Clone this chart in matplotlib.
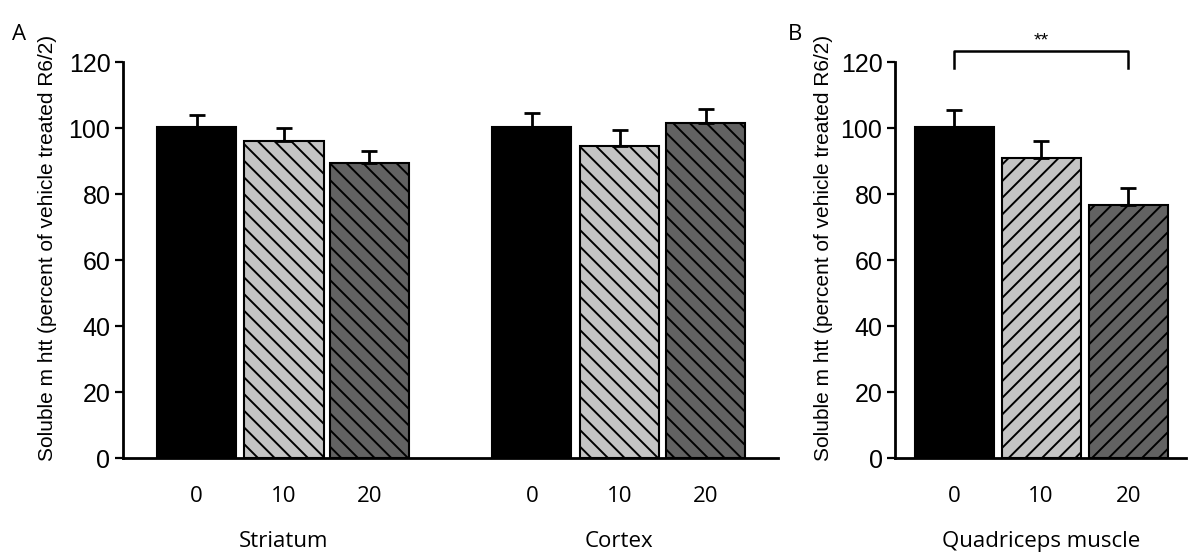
import matplotlib
matplotlib.use("Agg")
import matplotlib.pyplot as plt
import numpy as np

# data
doses = ["0", "10", "20"]
striatum_mean = [100.3, 96.2, 89.3]
striatum_err = [3.7, 3.8, 3.8]
cortex_mean = [100.2, 94.6, 101.5]
cortex_err = [4.2, 4.7, 4.2]
quad_mean = [100.4, 91.0, 76.7]
quad_err = [5.1, 5.2, 5.0]

bar_colors = ["#000000", "#c4c4c4", "#626262"]
ylabel = "Soluble m htt (percent of vehicle treated R6/2)"
tick_font = "Liberation Sans"
text_font = "Open Sans"

plt.rcParams["hatch.linewidth"] = 1.4
plt.rcParams["hatch.color"] = "black"

fig = plt.figure(figsize=(12, 5.55), dpi=100)
W, H = 1200.0, 555.0

def make_axes(x0, x1):
    return fig.add_axes([x0 / W, (H - 458) / H, (x1 - x0) / W, 396 / H])

def style_axes(ax):
    for s in ["top", "right"]:
        ax.spines[s].set_visible(False)
    ax.spines["left"].set_linewidth(2)
    ax.spines["bottom"].set_linewidth(2)
    ax.set_ylim(0, 120)
    ax.set_yticks(np.arange(0, 121, 20))
    ax.tick_params(axis="y", direction="out", length=6, width=1.6, pad=3,
                   labelsize=18)
    ax.tick_params(axis="x", length=0, pad=20, labelsize=16)
    for lab in ax.get_yticklabels():
        lab.set_fontfamily(tick_font)
    for lab in ax.get_xticklabels():
        lab.set_fontfamily(text_font)

def draw_group(ax, xs, means, errs, hatch):
    hatches = ["", hatch, hatch]
    for x, m, e, c, h in zip(xs, means, errs, bar_colors, hatches):
        ax.bar(x, m, width=0.91, color=c, edgecolor="black", linewidth=1.5,
               hatch=h, zorder=2)
        ax.errorbar(x, m, yerr=[[0], [e]], fmt="none", ecolor="black",
                    elinewidth=2, capsize=6, capthick=2, zorder=3)

# Panel A
axA = make_axes(123, 778)
unit = 87.0
xsA1 = [0.845, 1.85, 2.83]
xsA2 = [4.70, 5.71, 6.70]
draw_group(axA, xsA1, striatum_mean, striatum_err, "\\\\")
draw_group(axA, xsA2, cortex_mean, cortex_err, "\\\\")
axA.set_xlim(0, 655 / unit)
axA.set_xticks(xsA1 + xsA2)
axA.set_xticklabels(doses + doses)
style_axes(axA)
axA.set_ylabel(ylabel, fontsize=15, fontfamily=tick_font)
axA.yaxis.set_label_coords(-0.10, 0.53)
axA.text(np.mean(xsA1), -0.21, "Striatum", transform=axA.get_xaxis_transform(),
         ha="center", va="center", fontsize=16, fontfamily=text_font)
axA.text(np.mean(xsA2), -0.21, "Cortex", transform=axA.get_xaxis_transform(),
         ha="center", va="center", fontsize=16, fontfamily=text_font)

# Panel B
axB = make_axes(895, 1186)
xsB = [0.68, 1.68, 2.68]
draw_group(axB, xsB, quad_mean, quad_err, "//")
axB.set_xlim(0, 291 / unit)
axB.set_xticks(xsB)
axB.set_xticklabels(doses)
style_axes(axB)
axB.set_ylabel(ylabel, fontsize=15, fontfamily=tick_font)
axB.yaxis.set_label_coords(-0.213, 0.53)
axB.text(xsB[1], -0.21, "Quadriceps muscle", transform=axB.get_xaxis_transform(),
         ha="center", va="center", fontsize=16, fontfamily=text_font)

# significance bracket
axB.plot([xsB[0], xsB[0], xsB[2], xsB[2]], [118.1, 123.4, 123.4, 118.1],
         color="black", lw=1.8, clip_on=False)
axB.text((xsB[0] + xsB[2]) / 2, 126.5, "**", ha="center", va="center",
         fontsize=14, fontfamily=tick_font)

fig.text(12 / W, 1 - 35 / H, "A", fontsize=16, fontfamily=text_font, va="center")
fig.text(788 / W, 1 - 35 / H, "B", fontsize=16, fontfamily=text_font, va="center")

fig.savefig("out.png", dpi=100)
